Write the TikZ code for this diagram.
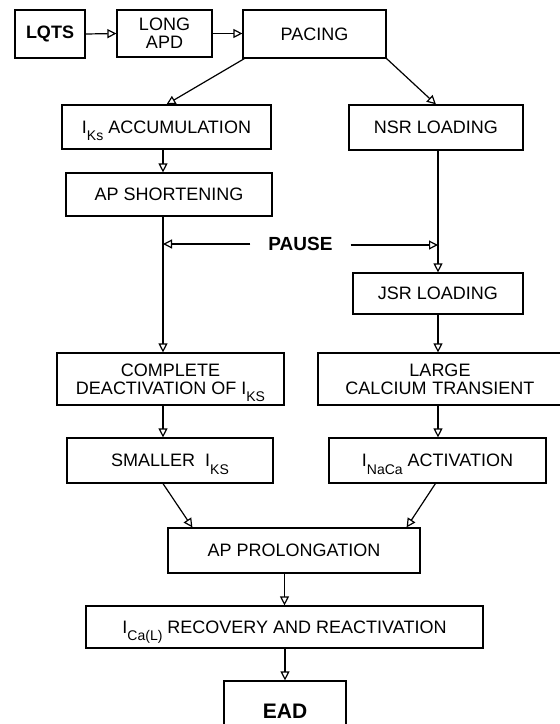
\documentclass[tikz,border=0pt]{standalone}
\usepackage{fontspec}
\setmainfont{Liberation Sans}
\usetikzlibrary{arrows.meta,calc}

% lowered subscript that does not change the line height
\newcommand{\lowsub}[1]{\raisebox{-7.5pt}[0pt][0pt]{\fontsize{14}{14}\selectfont #1}}

\begin{document}
\begin{tikzpicture}[x=1pt,y=-1pt,
  every node/.style={font=\fontsize{18}{18}\selectfont},
  box/.style={draw, line width=1.2pt, inner sep=0pt, align=center},
  bbold/.style={font=\fontsize{18}{18}\selectfont\bfseries},
  arr/.style={line width=1.2pt, -{Triangle[open, length=9pt, width=9pt]}}]
  \useasboundingbox (0,0) rectangle (560,724);
  \clip (0,0) rectangle (560,724);

  % guide columns for the vertical connectors
  \coordinate (lcol) at (163,0);
  \coordinate (rcol) at (438,0);

  % top row
  \node[box, bbold, minimum width=70pt, minimum height=48pt] (lqts) at (50,34) {LQTS};
  \node[box, minimum width=95pt, minimum height=47pt] (lapd) at (164.5,33.5) {LONG\\APD};
  \node[box, minimum width=143pt, minimum height=48pt] (pacing) at (314.5,34) {PACING};

  % left branch
  \node[box, minimum width=209pt, minimum height=44pt] (iks) at (166.5,127) {I\lowsub{Ks} ACCUMULATION};
  \node[box, minimum width=206pt, minimum height=43pt] (apsh) at (169,194.5) {AP SHORTENING};
  \node[box, minimum width=227pt, minimum height=52pt] (cdeact) at (170.5,379) {COMPLETE\\DEACTIVATION OF I\lowsub{KS}};
  \node[box, minimum width=206pt, minimum height=45pt] (smaller) at (170,460.5) {SMALLER\ \ I\lowsub{KS}};

  % right branch
  \node[box, minimum width=174pt, minimum height=45pt] (nsr) at (436,127.5) {NSR LOADING};
  \node[box, minimum width=170pt, minimum height=41pt] (jsr) at (438,293.5) {JSR LOADING};
  \node[box, minimum width=244pt, minimum height=52pt, text width=244pt] (large) at (440,379) {LARGE\\CALCIUM TRANSIENT};
  \node[box, minimum width=217pt, minimum height=45pt] (inaca) at (437.5,460.5) {I\lowsub{NaCa} ACTIVATION};

  % pause label
  \node[font=\fontsize{19}{19}\selectfont\bfseries, inner xsep=18pt, inner ysep=0pt] (pause) at (300.5,244) {PAUSE};

  % bottom chain
  \node[box, minimum width=252pt, minimum height=45pt] (approl) at (294,550.5) {AP PROLONGATION};
  \node[box, minimum width=397pt, minimum height=42pt] (ical) at (284.5,627) {I\lowsub{Ca(L)} RECOVERY AND REACTIVATION};
  \node[box, font=\fontsize{21}{21}\selectfont\bfseries, minimum width=122pt, minimum height=60pt] (ead) at (285,711) {EAD};

  % connectors
  \draw[arr] (lqts.east) -- (lapd.west);
  \draw[arr] (lapd.east) -- (lapd.east -| pacing.west);
  \draw[arr] ($(pacing.south west)+(2,0)$) -- (iks.north);
  \draw[arr] (pacing.south east) -- (nsr.north);
  \draw[arr] (iks.south -| lcol) -- (apsh.north -| lcol);
  \draw[arr] (apsh.south -| lcol) -- (cdeact.north -| lcol);
  \draw[arr] (cdeact.south -| lcol) -- (smaller.north -| lcol);
  \draw[arr] (nsr.south -| rcol) -- (jsr.north -| rcol);
  \draw[arr] (jsr.south -| rcol) -- (large.north -| rcol);
  \draw[arr] (large.south -| rcol) -- (inaca.north -| rcol);
  \draw[arr] (pause.west) -- (pause.west -| lcol);
  \draw[arr] ($(pause.east)+(0,1)$) -- ($(pause.east -| rcol)+(0,1)$);
  \draw[arr] (smaller.south -| lcol) -- ($(approl.north west)+(25,0)$);
  \draw[arr] ($(inaca.south west)+(107,0)$) -- ($(approl.north east)+(-14,0)$);
  \draw[arr] (approl.south -| ical.north) -- (ical.north);
  \draw[arr] (ical.south -| ead.north) -- (ead.north);
\end{tikzpicture}
\end{document}
